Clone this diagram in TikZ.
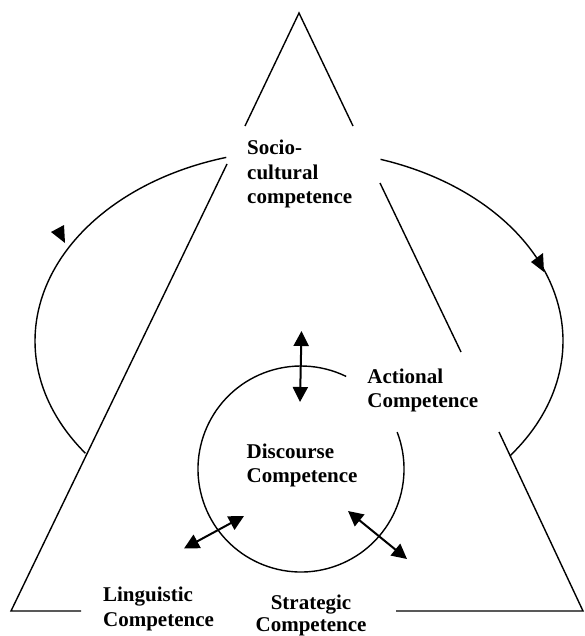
\documentclass[tikz,border=0pt]{standalone}
\usepackage{fontspec}
\setmainfont{Liberation Serif}
\usetikzlibrary{arrows.meta}
\begin{document}
\begin{tikzpicture}[x=1pt,y=-1pt,line width=1.4pt,
  lab/.style={font=\fontsize{21}{25}\selectfont\bfseries,inner sep=0pt},
  labl/.style={lab,anchor=base west},
  labc/.style={lab,anchor=base},
  dbl/.style={line width=2pt,{Triangle[length=15pt,width=15pt]}-{Triangle[length=15pt,width=15pt]}},
  headfill/.style={fill=black,draw=none}]
\useasboundingbox (0,0) rectangle (584,636);
% triangle
\coordinate (apex) at (299,13);
\coordinate (tl) at (245,126);
\coordinate (tr) at (353,126);
\coordinate (l1) at (227,164);
\coordinate (bl) at (11,611);
\coordinate (b1) at (81,611);
\coordinate (r1) at (380,183);
\coordinate (r2) at (461,352);
\coordinate (r3) at (499,432);
\coordinate (br) at (583,611);
\coordinate (b2) at (396,611);
\draw (tl) -- (apex) -- (tr);
\draw (l1) -- (bl) -- (b1);
\draw (r1) -- (r2);
\draw (r3) -- (br) -- (b2);
% outer loop
\coordinate (ec) at (299,341);
\draw ([shift={(254:264 and 191)}]ec) arc[start angle=254,end angle=144,x radius=264,y radius=191];
\draw ([shift={(-72:264 and 191)}]ec) arc[start angle=-72,end angle=37,x radius=264,y radius=191];
\fill[headfill] (51,232) -- (64,225) -- (65,243) -- cycle;
\fill[headfill] (531,262) -- (543,253) -- (544,272) -- cycle;
% inner circle
\coordinate (cc) at (301,469);
\draw ([shift={(-21:103)}]cc) arc[start angle=-21,end angle=296,radius=103];
% double arrows
\coordinate (v1) at (301.5,331);
\coordinate (v2) at (300,402);
\coordinate (a1) at (184,548.5);
\coordinate (a2) at (244,516);
\coordinate (s1) at (348,511);
\coordinate (s2) at (407,559);
\draw[dbl] (v1) -- (v2);
\draw[dbl] (a1) -- (a2);
\draw[dbl] (s1) -- (s2);
% labels
\node[labl] (soc1) at (246.5,155) {Socio-};
\node[labl] (soc2) at (246.5,180) {cultural};
\node[labl] (soc3) at (246.5,204) {competence};
\node[labl] (act1) at (366.7,383) {Actional};
\node[labl] (act2) at (366.7,407) {Competence};
\node[labl] (dis1) at (246,458) {Discourse};
\node[labl] (dis2) at (246,482) {Competence};
\node[labl] (lin1) at (102.4,601.5) {Linguistic};
\node[labl] (lin2) at (102.4,626) {Competence};
\node[labc] (str1) at (311,609) {Strategic};
\node[labc] (str2) at (311,631) {Competence};
\end{tikzpicture}
\end{document}
